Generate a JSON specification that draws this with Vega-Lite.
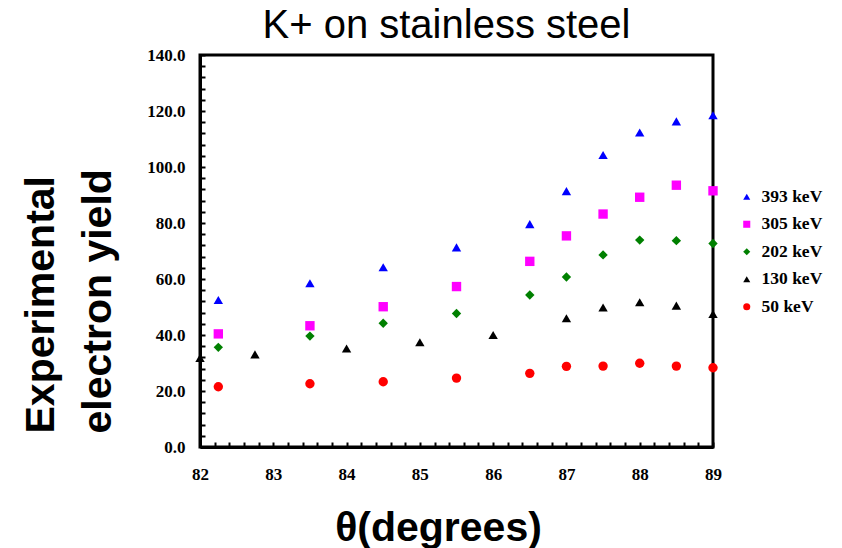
{
  "$schema": "https://vega.github.io/schema/vega-lite/v6.json",
  "width": 513,
  "height": 392,
  "autosize": {"type": "none"},
  "padding": {"left": 200, "top": 55, "right": 129, "bottom": 101},
  "background": "white",
  "title": {
    "text": "K+ on stainless steel",
    "font": "Liberation Sans",
    "fontSize": 40,
    "fontWeight": "normal",
    "color": "black",
    "anchor": "middle",
    "baseline": "alphabetic",
    "offset": 8,
    "dx": -10,
    "dy": 40
  },
  "config": {
    "view": {"stroke": "black", "strokeWidth": 3},
    "axis": {
      "domainColor": "black",
      "domainWidth": 3,
      "tickColor": "black",
      "tickWidth": 2,
      "tickSize": -5,
      "grid": false,
      "labelFont": "Liberation Serif",
      "labelFontWeight": "bold",
      "labelFontSize": 17,
      "labelColor": "black",
      "labelOverlap": false,
      "labelFlush": false,
      "titleFont": "Liberation Sans",
      "titleFontWeight": "bold",
      "titleFontSize": 41,
      "titleColor": "black"
    }
  },
  "data": {
    "values": [
      {"theta": 82.25, "yield": 52.5, "energy": "393 keV"},
      {"theta": 83.5, "yield": 58.5, "energy": "393 keV"},
      {"theta": 84.5, "yield": 64.2, "energy": "393 keV"},
      {"theta": 85.5, "yield": 71.3, "energy": "393 keV"},
      {"theta": 86.5, "yield": 79.6, "energy": "393 keV"},
      {"theta": 87, "yield": 91.4, "energy": "393 keV"},
      {"theta": 87.5, "yield": 104.3, "energy": "393 keV"},
      {"theta": 88, "yield": 112.3, "energy": "393 keV"},
      {"theta": 88.5, "yield": 116.3, "energy": "393 keV"},
      {"theta": 89, "yield": 118.5, "energy": "393 keV"},
      {"theta": 82.25, "yield": 40.4, "energy": "305 keV"},
      {"theta": 83.5, "yield": 43.3, "energy": "305 keV"},
      {"theta": 84.5, "yield": 50.1, "energy": "305 keV"},
      {"theta": 85.5, "yield": 57.3, "energy": "305 keV"},
      {"theta": 86.5, "yield": 66.3, "energy": "305 keV"},
      {"theta": 87, "yield": 75.4, "energy": "305 keV"},
      {"theta": 87.5, "yield": 83.2, "energy": "305 keV"},
      {"theta": 88, "yield": 89.2, "energy": "305 keV"},
      {"theta": 88.5, "yield": 93.5, "energy": "305 keV"},
      {"theta": 89, "yield": 91.5, "energy": "305 keV"},
      {"theta": 82.25, "yield": 35.6, "energy": "202 keV"},
      {"theta": 83.5, "yield": 39.6, "energy": "202 keV"},
      {"theta": 84.5, "yield": 44.2, "energy": "202 keV"},
      {"theta": 85.5, "yield": 47.7, "energy": "202 keV"},
      {"theta": 86.5, "yield": 54.3, "energy": "202 keV"},
      {"theta": 87, "yield": 60.7, "energy": "202 keV"},
      {"theta": 87.5, "yield": 68.6, "energy": "202 keV"},
      {"theta": 88, "yield": 73.9, "energy": "202 keV"},
      {"theta": 88.5, "yield": 73.7, "energy": "202 keV"},
      {"theta": 89, "yield": 72.7, "energy": "202 keV"},
      {"theta": 82, "yield": 31.8, "energy": "130 keV"},
      {"theta": 82.75, "yield": 33.1, "energy": "130 keV"},
      {"theta": 84, "yield": 35.2, "energy": "130 keV"},
      {"theta": 85, "yield": 37.4, "energy": "130 keV"},
      {"theta": 86, "yield": 40.0, "energy": "130 keV"},
      {"theta": 87, "yield": 46.0, "energy": "130 keV"},
      {"theta": 87.5, "yield": 49.8, "energy": "130 keV"},
      {"theta": 88, "yield": 51.7, "energy": "130 keV"},
      {"theta": 88.5, "yield": 50.5, "energy": "130 keV"},
      {"theta": 89, "yield": 47.5, "energy": "130 keV"},
      {"theta": 82.25, "yield": 21.5, "energy": "50 keV"},
      {"theta": 83.5, "yield": 22.6, "energy": "50 keV"},
      {"theta": 84.5, "yield": 23.3, "energy": "50 keV"},
      {"theta": 85.5, "yield": 24.6, "energy": "50 keV"},
      {"theta": 86.5, "yield": 26.3, "energy": "50 keV"},
      {"theta": 87, "yield": 28.8, "energy": "50 keV"},
      {"theta": 87.5, "yield": 28.9, "energy": "50 keV"},
      {"theta": 88, "yield": 29.9, "energy": "50 keV"},
      {"theta": 88.5, "yield": 28.9, "energy": "50 keV"},
      {"theta": 89, "yield": 28.3, "energy": "50 keV"}
    ]
  },
  "mark": {"type": "point", "filled": true, "opacity": 1, "size": 88},
  "encoding": {
    "x": {
      "field": "theta",
      "type": "quantitative",
      "scale": {"domain": [82, 89], "nice": false, "zero": false},
      "axis": {
        "title": "θ(degrees)",
        "values": [82, 82.2, 82.4, 82.6, 82.8, 83, 83.2, 83.4, 83.6, 83.8, 84, 84.2, 84.4, 84.6, 84.8, 85, 85.2, 85.4, 85.6, 85.8, 86, 86.2, 86.4, 86.6, 86.8, 87, 87.2, 87.4, 87.6, 87.8, 88, 88.2, 88.4, 88.6, 88.8, 89],
        "labelExpr": "abs(datum.value - round(datum.value)) < 0.01 ? format(datum.value, 'd') : ''",
        "labelPadding": 24,
        "titleX": 238,
        "titleY": 93,
        "titleBaseline": "alphabetic",
        "titleAnchor": "middle"
      }
    },
    "y": {
      "field": "yield",
      "type": "quantitative",
      "scale": {"domain": [0, 140], "nice": false},
      "axis": {
        "title": ["Experimental", "electron yield"],
        "values": [0, 4, 8, 12, 16, 20, 24, 28, 32, 36, 40, 44, 48, 52, 56, 60, 64, 68, 72, 76, 80, 84, 88, 92, 96, 100, 104, 108, 112, 116, 120, 124, 128, 132, 136, 140],
        "labelExpr": "datum.value % 20 == 0 ? format(datum.value, '.1f') : ''",
        "labelPadding": 20,
        "zindex": 1,
        "titleAngle": -90,
        "titleAlign": "left",
        "titleBaseline": "alphabetic",
        "titleLineHeight": 57,
        "titleX": -147,
        "titleY": 378
      }
    },
    "color": {
      "field": "energy",
      "type": "nominal",
      "scale": {
        "domain": ["393 keV", "305 keV", "202 keV", "130 keV", "50 keV"],
        "range": ["#0000ff", "#ff00ff", "#008000", "#000000", "#ff0000"]
      },
      "legend": {
        "title": null,
        "orient": "none",
        "legendX": 538,
        "legendY": 133,
        "labelFont": "Liberation Serif",
        "labelFontWeight": "bold",
        "labelFontSize": 17.5,
        "labelColor": "black",
        "labelOffset": 6,
        "symbolSize": 50,
        "rowPadding": 8.5
      }
    },
    "shape": {
      "field": "energy",
      "type": "nominal",
      "scale": {
        "domain": ["393 keV", "305 keV", "202 keV", "130 keV", "50 keV"],
        "range": ["triangle-up", "square", "diamond", "triangle-up", "circle"]
      }
    }
  }
}
